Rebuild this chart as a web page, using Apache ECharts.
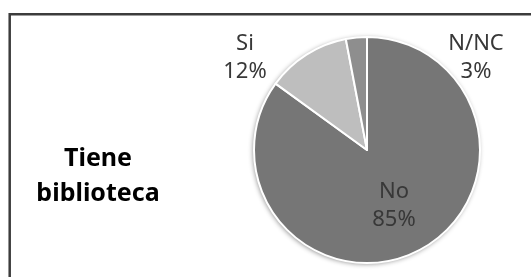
<!DOCTYPE html>
<html>
<head>
<meta charset="utf-8">
<script src="https://cdn.jsdelivr.net/npm/echarts@6/dist/echarts.min.js"></script>
<style>
html,body{margin:0;padding:0;background:#fff;}
#main{width:531px;height:277px;}
</style>
</head>
<body>
<div id="main"></div>
<script>
const categories = ['No', 'Si', 'N/NC'];
const values = [85, 12, 3];
const colors = ['#767676', '#bebebe', '#8e8e8e'];
const chartTitle = 'Tiene\nbiblioteca';

const chart = echarts.init(document.getElementById('main'), null, {renderer: 'canvas'});
const labelFont = '"Noto Sans", sans-serif';

const outsideLabelPos = {1: [245, 58], 2: [476, 58]};

chart.setOption({
  animation: false,
  backgroundColor: '#ffffff',
  graphic: [
    {
      type: 'rect',
      shape: {x: 9.7, y: 14.3, width: 700, height: 500},
      style: {fill: 'none', stroke: '#3c3c3c', lineWidth: 2.5},
      silent: true, z: 0
    },
    {
      type: 'text',
      x: 98, y: 176,
      style: {
        text: chartTitle,
        fill: '#000000',
        font: 'bold 25px "Noto Sans", sans-serif',
        lineHeight: 35,
        align: 'center',
        verticalAlign: 'middle'
      },
      silent: true, z: 10
    }
  ],
  series: [
    {
      type: 'pie',
      silent: true,
      center: [367, 150],
      radius: 113,
      z: 1,
      label: {show: false},
      labelLine: {show: false},
      itemStyle: {color: '#ffffff', shadowBlur: 5, shadowColor: 'rgba(0,0,0,0.45)', shadowOffsetX: -1, shadowOffsetY: 1},
      data: [{value: 1, name: ''}]
    },
    {
      type: 'pie',
      silent: true,
      center: [367, 150],
      radius: 113,
      startAngle: 90,
      clockwise: true,
      z: 2,
      itemStyle: {borderColor: '#ffffff', borderWidth: 2},
      label: {
        show: true,
        position: 'inside',
        formatter: p => p.name + '\n' + p.value + '%',
        color: '#383838',
        fontFamily: labelFont,
        fontSize: 22,
        lineHeight: 28,
        align: 'center'
      },
      labelLine: {show: false},
      labelLayout: function (params) {
        const pos = outsideLabelPos[params.dataIndex];
        if (pos) {
          return {x: pos[0], y: pos[1], align: 'center', verticalAlign: 'middle'};
        }
        return {dy: 3};
      },
      data: categories.map((c, i) => ({
        name: c,
        value: values[i],
        itemStyle: {color: colors[i]}
      }))
    }
  ]
});
</script>
</body>
</html>
